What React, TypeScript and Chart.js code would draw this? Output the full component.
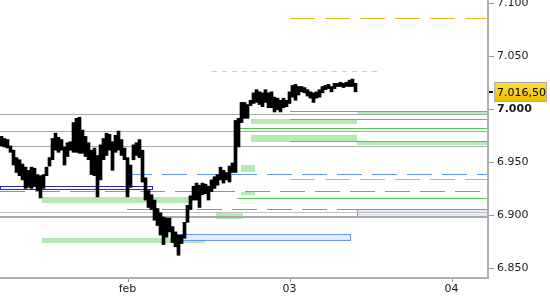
import React, { useEffect, useRef } from 'react';
import { Chart, registerables } from 'chart.js';

Chart.register(...registerables);

// ---- data ----
const barHighs = [
  6974, 6972, 6971, 6965, 6961, 6954, 6952, 6948, 6945, 6942, 6945, 6944, 6938, 6937, 6938, 6945, 6954, 6972, 6977, 6973,
  6971, 6964, 6968, 6969, 6987, 6991, 6992, 6980, 6974, 6968, 6961, 6963, 6956, 6966, 6972, 6977, 6976, 6969, 6975, 6979,
  6971, 6963, 6954, 6947, 6966, 6968, 6971, 6961, 6935, 6923, 6919, 6914, 6906, 6902, 6898, 6897, 6897, 6889, 6884, 6881,
  6881, 6893, 6909, 6918, 6927, 6930, 6928, 6930, 6929, 6927, 6933, 6936, 6938, 6945, 6942, 6940, 6946, 6949, 6989, 6991,
  7006, 7006, 7004, 7008, 7015, 7018, 7016, 7015, 7018, 7015, 7016, 7011, 7010, 7008, 7010, 7008, 7016, 7022, 7023, 7021,
  7021, 7020, 7018, 7016, 7015, 7016, 7018, 7021, 7022, 7023, 7021, 7024, 7024, 7025, 7024, 7025, 7027, 7028, 7024,
];
const barLows = [
  6965, 6964, 6963, 6959, 6947, 6940, 6937, 6933, 6925, 6926, 6925, 6927, 6923, 6916, 6925, 6937, 6946, 6952, 6961, 6959,
  6961, 6947, 6955, 6961, 6959, 6959, 6958, 6958, 6955, 6952, 6938, 6937, 6917, 6933, 6952, 6956, 6961, 6942, 6959, 6961,
  6956, 6952, 6917, 6926, 6952, 6956, 6954, 6931, 6914, 6907, 6905, 6895, 6890, 6881, 6872, 6879, 6884, 6874, 6870, 6862,
  6873, 6878, 6893, 6905, 6914, 6914, 6907, 6919, 6920, 6914, 6922, 6925, 6928, 6933, 6930, 6933, 6931, 6940, 6940, 6964,
  6987, 6991, 6991, 7003, 7005, 7006, 7004, 7002, 7006, 7001, 7001, 6997, 6999, 6997, 7001, 7002, 7005, 7011, 7008, 7013,
  7016, 7015, 7012, 7010, 7006, 7010, 7011, 7015, 7018, 7019, 7016, 7019, 7021, 7021, 7020, 7021, 7021, 7021, 7016,
];
const lastPrice = 7016.5;

const slotMax = 162.33;
const dayTicks = [42.5, 96.5, 150.5];
const dayLabels = ['feb', '03', '04'];
const yMin = 6841.5;
const yMax = 7102.5;
const yStep = 50;

// horizontal levels: [fromSlot, toSlot, price]
const grayLevels = [
  [0, 170, 6994.8],
  [0, 170, 6979.1],
  [0, 170, 6964.9],
];
const lightGrayLevels = [[0, 170, 6902.7]];
const thickGrayLevels = [[0, 170, 6898.0]];
const greenLevels = [
  [96.67, 170, 6997.9],
  [96.67, 170, 6990.4],
  [79, 170, 6981.9],
  [96.67, 170, 6969.6],
  [79, 170, 6916.0],
];
const orangeDashLevels = [
  [96.67, 170, 7085.2],
  [96.67, 170, 6933.8],
];
const blueDashLevels = [
  [42.33, 170, 6938.5],
  [0, 170, 6922.5],
  [42.33, 119, 6905.6],
];
const grayDashLevels = [[70.67, 125.67, 7035.6]];

// zones: [fromSlot, toSlot, topPrice, bottomPrice]
const greenZones = [
  [83.67, 119, 6990.4, 6985.7],
  [83.67, 119, 6975.3, 6968.7],
  [119, 170, 6997.0, 6994.6],
  [119, 170, 6969.6, 6965.9],
  [80.33, 85, 6947.0, 6940.4],
  [80.33, 85, 6921.6, 6918.8],
  [14, 64.33, 6916.9, 6911.2],
  [72, 81, 6901.8, 6896.1],
  [14, 68.33, 6878.2, 6873.5],
];
const darkBlueZones = [[0, 51, 6927.2, 6924.0]];
const lightBlueZones = [
  [57.67, 117, 6882.0, 6876.8],
  [119, 170, 6905.6, 6899.4],
];

// ---- helpers ----
function fmtDE(v: number, decimals: number): string {
  const neg = v < 0;
  const fixed = Math.abs(v).toFixed(decimals);
  const [intPart, dec] = fixed.split('.');
  const grouped = intPart.replace(/\B(?=(\d{3})+(?!\d))/g, '.');
  return (neg ? '-' : '') + grouped + (dec ? ',' + dec : '');
}

const FONT = '"DejaVu Sans", Verdana, sans-serif';
const AXIS_COLOR = '#b0b0b0';

const levelsPlugin = {
  id: 'levels',
  beforeDatasetsDraw(chart: any) {
    const { ctx, chartArea, scales } = chart;
    const xs = scales.x;
    const ys = scales.y;
    const px = (v: number) => Math.round(xs.getPixelForValue(v));
    const py = (v: number) => Math.round(ys.getPixelForValue(v));
    ctx.save();
    ctx.beginPath();
    ctx.rect(chartArea.left, chartArea.top, chartArea.right - chartArea.left, chartArea.bottom - chartArea.top);
    ctx.clip();

    ctx.fillStyle = 'rgb(180,234,180)';
    greenZones.forEach(([a, b, t, bo]) => {
      const x0 = px(a), x1 = px(b), y0 = py(t), y1 = py(bo);
      ctx.fillRect(x0, y0, x1 - x0, Math.max(1, y1 - y0));
    });
    lightBlueZones.forEach(([a, b, t, bo]) => {
      const x0 = px(a), x1 = px(b), y0 = py(t), y1 = py(bo);
      ctx.fillStyle = 'rgb(226,236,252)';
      ctx.fillRect(x0, y0, x1 - x0, y1 - y0);
      ctx.strokeStyle = 'rgb(100,150,245)';
      ctx.lineWidth = 1;
      ctx.strokeRect(x0 + 0.5, y0 + 0.5, x1 - x0 - 1, y1 - y0);
    });
    darkBlueZones.forEach(([a, b, t, bo]) => {
      const x0 = px(a), x1 = px(b), y0 = py(t), y1 = py(bo);
      ctx.strokeStyle = 'rgb(40,40,200)';
      ctx.lineWidth = 1;
      ctx.strokeRect(x0 + 0.5, y0 + 0.5, x1 - x0 - 1, y1 - y0);
    });

    const hline = (arr: number[][], color: string, width: number, dash: number[]) => {
      ctx.strokeStyle = color;
      ctx.lineWidth = width;
      ctx.setLineDash(dash);
      arr.forEach(([a, b, v]) => {
        const yy = width % 2 === 1 ? py(v) + 0.5 : py(v);
        ctx.beginPath();
        ctx.moveTo(px(a), yy);
        ctx.lineTo(px(b), yy);
        ctx.stroke();
      });
      ctx.setLineDash([]);
    };
    hline(grayLevels, '#aaaaaa', 1, []);
    hline(lightGrayLevels, '#c4c4c4', 1, []);
    hline(thickGrayLevels, '#aaaaaa', 2, []);
    hline(greenLevels, 'rgb(80,200,80)', 1, []);
    hline(orangeDashLevels, 'rgb(245,180,30)', 1, [25, 10]);
    hline(blueDashLevels, 'rgb(100,150,250)', 1, [25, 10]);
    hline(grayDashLevels, '#cccccc', 1, [5, 5]);
    ctx.restore();
  },
  afterDraw(chart: any) {
    const { ctx, chartArea, scales } = chart;
    const xs = scales.x;
    const ys = scales.y;
    const right = Math.round(chartArea.right);
    const bottom = Math.round(chartArea.bottom);
    ctx.save();
    ctx.setLineDash([]);
    ctx.globalAlpha = 1;
    // axis lines
    ctx.fillStyle = AXIS_COLOR;
    ctx.fillRect(right, 0, 2, bottom + 2);
    ctx.fillRect(chartArea.left, bottom, right - chartArea.left + 2, 2);
    // tick marks
    ctx.fillStyle = '#9a9a9a';
    ys.ticks.forEach((t: any) => {
      const yy = Math.round(ys.getPixelForValue(t.value));
      ctx.fillRect(right + 2, yy, 5, 1);
    });
    xs.ticks.forEach((t: any) => {
      const xx = Math.round(xs.getPixelForValue(t.value));
      ctx.fillRect(xx, bottom + 2, 1, 3);
    });
    // last price marker
    const yp = Math.round(ys.getPixelForValue(lastPrice));
    const left = right + 7;
    ctx.fillStyle = '#000';
    ctx.fillRect(right + 2, yp, 4, 2);
    const g = ctx.createLinearGradient(0, yp - 10, 0, yp + 10);
    g.addColorStop(0, '#ffe23c');
    g.addColorStop(1, '#f0be00');
    ctx.fillStyle = g;
    ctx.fillRect(left, yp - 9, 53, 20);
    ctx.strokeStyle = '#aaaaaa';
    ctx.lineWidth = 1;
    ctx.strokeRect(left + 0.5, yp - 8.5, 52, 19);
    ctx.fillStyle = '#000';
    ctx.font = '11px ' + FONT;
    ctx.textBaseline = 'middle';
    ctx.textAlign = 'left';
    ctx.fillText(fmtDE(lastPrice, 2), left + 3, yp + 2);
    ctx.restore();
  },
};

export default function App() {
  const canvasRef = useRef<HTMLCanvasElement | null>(null);

  useEffect(() => {
    const canvas = canvasRef.current;
    if (!canvas) return;
    const bars = barHighs.map((h, i) => ({ x: i + 0.5, y: [barLows[i], h] }));
    const chart = new Chart(canvas, {
      type: 'bar',
      data: {
        datasets: [
          {
            data: bars as any,
            backgroundColor: '#000000',
            borderWidth: 0,
            barThickness: 3,
          } as any,
        ],
      },
      options: {
        animation: false,
        responsive: true,
        maintainAspectRatio: false,
        layout: { padding: 0 },
        plugins: { legend: { display: false }, tooltip: { enabled: false } },
        scales: {
          x: {
            type: 'linear',
            offset: false,
            min: 0,
            max: slotMax,
            grid: { display: true, offset: false, drawOnChartArea: false, drawTicks: true, tickLength: 4, color: 'rgba(0,0,0,0)' },
            border: { display: false },
            ticks: {
              autoSkip: false,
              maxRotation: 0,
              padding: 2,
              color: '#1a1a1a',
              font: { family: FONT, size: 11 },
              callback: (_v: any, i: number) => dayLabels[i],
            },
            afterBuildTicks: (s: any) => {
              s.ticks = dayTicks.map((v) => ({ value: v }));
            },
            afterFit: (s: any) => {
              s.height = 23;
              s.paddingLeft = 0;
              s.paddingRight = 0;
            },
          } as any,
          y: {
            type: 'linear',
            position: 'right',
            min: yMin,
            max: yMax,
            grid: { display: true, drawOnChartArea: false, drawTicks: true, tickLength: 6, color: 'rgba(0,0,0,0)' },
            border: { display: false },
            ticks: {
              stepSize: yStep,
              includeBounds: false,
              padding: 4,
              color: '#1a1a1a',
              font: (c: any) => ({
                family: FONT,
                size: 11,
                weight: c.tick && c.tick.value === 7000 ? 'bold' : 'normal',
              }),
              callback: (v: any) => fmtDE(Number(v), 0),
            },
            afterFit: (s: any) => {
              s.width = 63;
              s.paddingTop = 0;
              s.paddingBottom = 0;
            },
          } as any,
        },
      },
      plugins: [levelsPlugin],
    });
    return () => chart.destroy();
  }, []);

  return (
    <div style={{ position: 'fixed', left: 0, top: 0, width: 550, height: 300, background: '#fff' }}>
      <canvas ref={canvasRef} />
    </div>
  );
}
